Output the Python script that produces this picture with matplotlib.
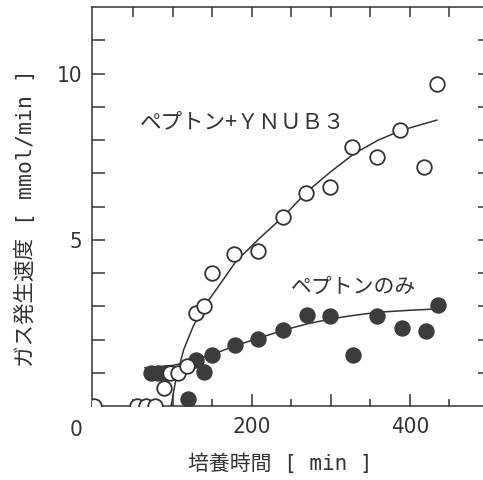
import matplotlib
matplotlib.use('Agg')
import matplotlib.pyplot as plt
from matplotlib import font_manager
import numpy as np

# ペプトン+YNUB3 (白丸)
open_x = [0, 55, 66, 78, 89, 97, 107, 118, 129, 139, 150, 178, 208, 240, 268, 299, 327, 358, 388, 418, 434]
open_y = [0, 0, 0, 0, 0.53, 1.0, 1.0, 1.2, 2.8, 3.0, 4.0, 4.58, 4.67, 5.7, 6.4, 6.6, 7.8, 7.5, 8.3, 7.2, 9.7]

# ペプトンのみ (黒丸)
fill_x = [72, 82, 92, 119, 129, 139, 150, 179, 208, 240, 270, 299, 328, 358, 390, 420, 435]
fill_y = [1.0, 1.0, 1.0, 0.22, 1.37, 1.02, 1.53, 1.84, 2.03, 2.29, 2.74, 2.72, 1.54, 2.72, 2.34, 2.26, 3.03]

# 近似曲線
open_curve_x = [98, 104, 114, 126, 140, 155, 180, 210, 240, 270, 300, 330, 360, 390, 434]
open_curve_y = [0.0, 0.8, 1.7, 2.4, 3.0, 3.5, 4.35, 5.05, 5.7, 6.45, 7.05, 7.6, 8.0, 8.3, 8.6]
fill_curve_x = [65, 100, 125, 150, 180, 210, 240, 270, 300, 330, 360, 400, 434]
fill_curve_y = [1.15, 1.22, 1.35, 1.55, 1.82, 2.05, 2.28, 2.47, 2.62, 2.73, 2.82, 2.88, 2.92]

label_open = 'ペプトン+ＹＮＵＢ３'
label_fill = 'ペプトンのみ'

ink = '#333333'
jp_font = ['DejaVu Sans Mono', 'Noto Sans CJK JP']

# 目盛の数字は細めの書体
names = {f.name for f in font_manager.fontManager.ttflist}
narrow = [n for n in ['Liberation Sans Narrow', 'Arial Narrow'] if n in names]
num_stretch = 'normal'
if narrow:
    num_font = [narrow[0], 'DejaVu Sans']
else:
    num_font = ['DejaVu Sans']
    if any(f.name == 'DejaVu Sans' and f.stretch == 'condensed' for f in font_manager.fontManager.ttflist):
        num_stretch = 'condensed'

fig = plt.figure(figsize=(4.83, 4.80), dpi=100)
ax = fig.add_axes([0.1905, 0.1542, 0.822, 0.831])

ax.plot(open_curve_x, open_curve_y, color=ink, lw=1.1, zorder=2)
ax.plot(fill_curve_x, fill_curve_y, color=ink, lw=1.1, zorder=2)
ax.plot(fill_x, fill_y, 'o', ms=10.8, mfc='#3c3c3c', mec='#3c3c3c', mew=1.0, zorder=3)
ax.plot(open_x, open_y, 'o', ms=10.5, mfc='white', mec=ink, mew=1.3, zorder=4)

ax.set_xlim(-2, 500)
ax.set_ylim(0, 12)

for s in ax.spines.values():
    s.set_color(ink)
    s.set_linewidth(1.1)

# 下軸: 100毎に長い目盛, 50毎に短い目盛
ax.set_xticks([100, 200, 300, 400])
ax.set_xticklabels(['', '200', '', '400'])
ax.set_xticks([50, 150, 250, 350, 450], minor=True)
ax.tick_params(axis='x', which='major', direction='in', length=9, width=1.1, color=ink, pad=8)
ax.tick_params(axis='x', which='minor', direction='in', length=5, width=1.1, color=ink)

# 左軸
ax.set_yticks(np.arange(1, 12))
ax.set_yticklabels(['' if v not in (5, 10) else str(v) for v in range(1, 12)])
ax.tick_params(axis='y', direction='in', length=9, width=1.1, color=ink, pad=7)

for lab in ax.get_xticklabels() + ax.get_yticklabels():
    lab.set_family(num_font)
    lab.set_stretch(num_stretch)
    lab.set_fontsize(16)
    lab.set_color(ink)

# 原点の 0
ax.annotate('0', xy=(0, 0), xytext=(-12.7, -17.3), textcoords='offset points',
            ha='center', va='center', fontsize=16, family=num_font, stretch=num_stretch,
            color=ink, annotation_clip=False)

# 上軸・右軸の目盛
top = ax.secondary_xaxis('top')
top.set_xticks(np.arange(50, 500, 50))
top.tick_params(direction='in', length=7, width=1.1, color=ink, labeltop=False)
top.spines['top'].set_visible(False)
right = ax.secondary_yaxis('right')
right.set_yticks(np.arange(1, 12))
right.tick_params(direction='in', length=8, width=1.1, color=ink, labelright=False)
right.spines['right'].set_visible(False)

ax.set_xlabel('培養時間 [ min ]', family=jp_font, fontsize=15, color=ink)
ax.xaxis.set_label_coords(0.474, -0.118)
ax.xaxis.label.set_verticalalignment('top')
ax.set_ylabel('ガス発生速度 [ mmol/min ]', family=jp_font, fontsize=15.5, color=ink)
ax.yaxis.set_label_coords(-0.141, 0.471)

ax.text(58.7, 8.52, label_open, family=['Noto Sans CJK JP', 'DejaVu Sans'],
        fontsize=15.5, color=ink, ha='left', va='center')
ax.text(250, 3.58, label_fill, family=['Noto Sans CJK JP', 'DejaVu Sans'],
        fontsize=15, color=ink, ha='left', va='center')

plt.savefig('out.png', dpi=100)
plt.close()
